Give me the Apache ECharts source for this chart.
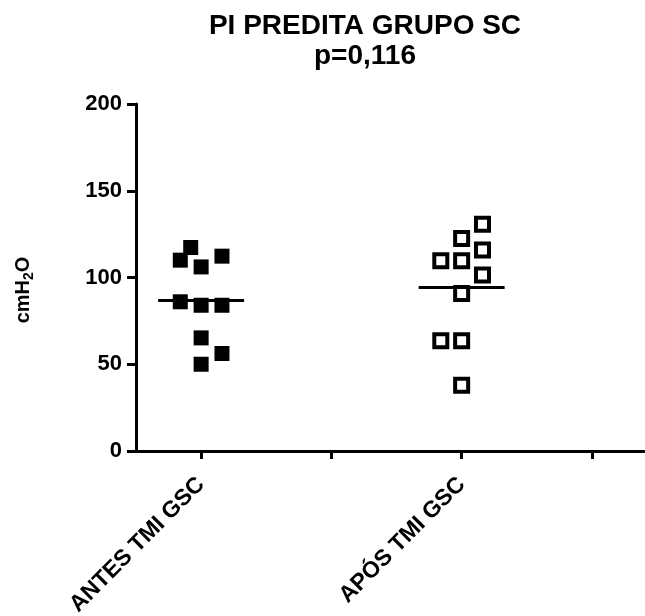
<!DOCTYPE html>
<html>
<head>
<meta charset="utf-8">
<script src="https://cdn.jsdelivr.net/npm/echarts@6/dist/echarts.min.js"></script>
<style>
html,body{margin:0;padding:0;background:#fff;}
#chart{width:645px;height:616px;}
</style>
</head>
<body>
<div id="chart"></div>
<script>
const categories = ['ANTES TMI GSC', 'APÓS TMI GSC'];
const categoryPositions = [1, 2];
const antesX = [0.96, 0.92, 1.0, 1.08, 0.92, 1.0, 1.08, 1.0, 1.08, 1.0];
const antesY = [117.3, 110, 106.1, 112.3, 86, 84, 84, 65.2, 56.2, 50];
const aposX = [2.08, 2.0, 2.08, 1.92, 2.0, 2.08, 2.0, 1.92, 2.0, 2.0];
const aposY = [130.7, 122.5, 115.8, 109.6, 109.6, 101.4, 90.8, 63.5, 63.5, 37.9];
const yTicks = [0, 50, 100, 150, 200];
const xTickValues = [1, 1.5, 2, 2.5];

function mean(a){return a.reduce((s,v)=>s+v,0)/a.length;}
const antesMean = mean(antesY);
const aposMean = mean(aposY);

const font = '"Liberation Sans", Arial, sans-serif';
const chart = echarts.init(document.getElementById('chart'), null, {renderer:'canvas'});
chart.setOption({
  animation:false,
  backgroundColor:'#fff',
  title:{
    text:'PI PREDITA GRUPO SC\np=0,116',
    left:360, top:6, textAlign:'center',
    textStyle:{fontFamily:font, fontWeight:'bold', fontSize:28, color:'#000', lineHeight:30}
  },
  grid:{left:136, right:1, top:104, bottom:165, containLabel:false, outerBoundsMode:'none'},
  xAxis:{
    type:'value', min:0.75, max:2.7,
    splitLine:{show:false},
    axisLine:{show:true, onZero:false, lineStyle:{color:'#000', width:3}},
    axisTick:{show:true, length:8, lineStyle:{color:'#000', width:3}, customValues:xTickValues},
    axisLabel:{
      customValues:categoryPositions,
      formatter:function(v){const i=categoryPositions.indexOf(v);return i>=0?categories[i]:'';},
      rotate:45, margin:30, fontFamily:font, fontWeight:'bold', fontSize:23, color:'#000'
    }
  },
  yAxis:{
    type:'value', min:yTicks[0], max:yTicks[yTicks.length-1], interval:50,
    splitLine:{show:false},
    axisLine:{show:true, lineStyle:{color:'#000', width:3}},
    axisTick:{show:true, length:9, lineStyle:{color:'#000', width:3}},
    axisLabel:{margin:14, fontFamily:font, fontWeight:'bold', fontSize:22, color:'#000'}
  },
  graphic:[{
    type:'text', x:23, y:290, rotation:Math.PI/2,
    style:{
      text:'{a|cmH}{s|2}{a|O}', align:'center', verticalAlign:'middle',
      rich:{
        a:{fontFamily:font, fontWeight:'bold', fontSize:20, fill:'#000'},
        s:{fontFamily:font, fontWeight:'bold', fontSize:14, fill:'#000', padding:[12,0,0,0]}
      }
    }
  }],
  series:[
    {
      type:'scatter', symbol:'rect', symbolSize:15,
      itemStyle:{color:'#000', opacity:1},
      data:antesX.map((x,i)=>[x, antesY[i]]),
      markLine:{
        silent:true, symbol:'none', label:{show:false},
        lineStyle:{color:'#000', width:3, type:'solid', opacity:1},
        data:[[{coord:[categoryPositions[0]-0.165, antesMean]},{coord:[categoryPositions[0]+0.165, antesMean]}]]
      }
    },
    {
      type:'scatter', symbol:'rect', symbolSize:13,
      itemStyle:{color:'#fff', borderColor:'#000', borderWidth:4, opacity:1},
      data:aposX.map((x,i)=>[x, aposY[i]]),
      markLine:{
        silent:true, symbol:'none', label:{show:false},
        lineStyle:{color:'#000', width:3, type:'solid', opacity:1},
        data:[[{coord:[categoryPositions[1]-0.165, aposMean]},{coord:[categoryPositions[1]+0.165, aposMean]}]]
      }
    }
  ]
});
</script>
</body>
</html>
